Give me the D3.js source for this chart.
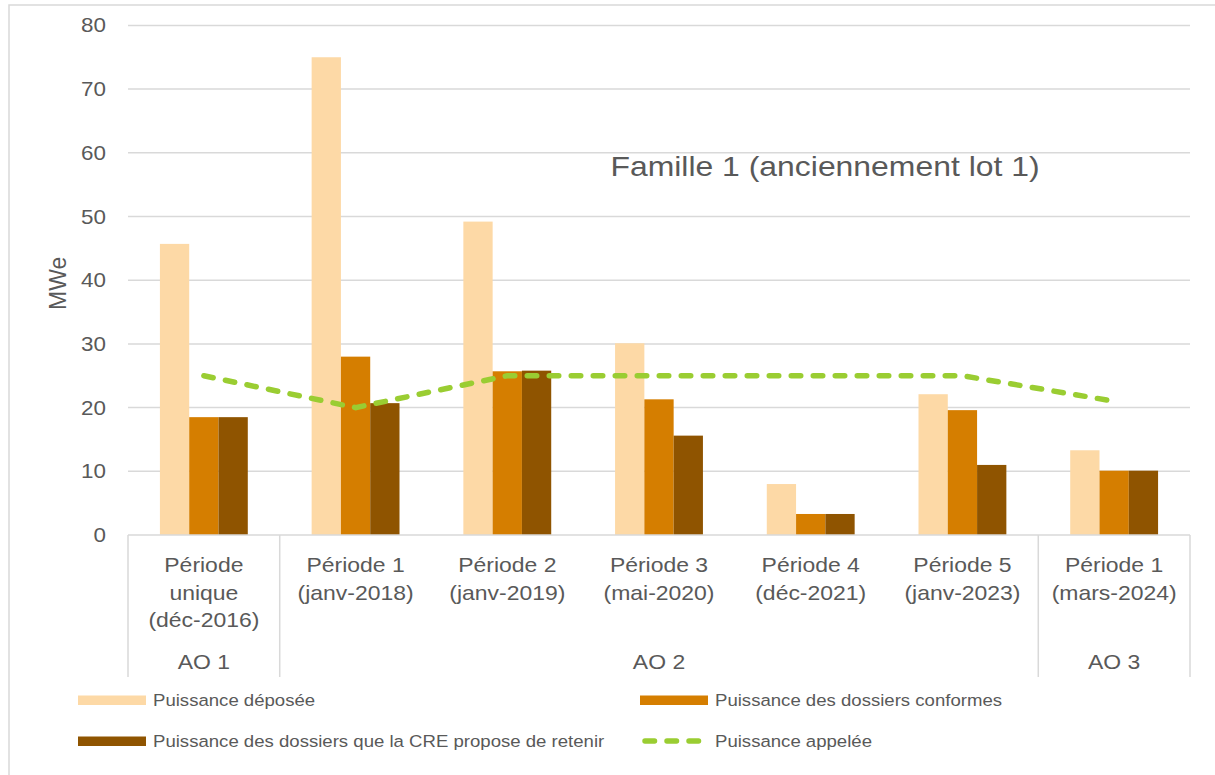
<!DOCTYPE html>
<html>
<head>
<meta charset="utf-8">
<script src="https://cdn.jsdelivr.net/npm/d3@7"></script>
<style>
  html, body { margin: 0; padding: 0; background: #fff; }
  svg { display: block; font-family: "Liberation Sans", Arial, sans-serif; }
</style>
</head>
<body>
<svg id="chart" width="1215" height="775"></svg>
<script>
// ---- Data ----
const periodLabels = [
  ["Période", "unique", "(déc-2016)"],
  ["Période 1", "(janv-2018)"],
  ["Période 2", "(janv-2019)"],
  ["Période 3", "(mai-2020)"],
  ["Période 4", "(déc-2021)"],
  ["Période 5", "(janv-2023)"],
  ["Période 1", "(mars-2024)"]
];
const categories = ["P0", "P1", "P2", "P3", "P4", "P5", "P6"];
const aoLabels = ["AO 1", "AO 2", "AO 3"];
const aoSpans = [1, 5, 1];

const puissanceDeposee   = [45.7, 75.0, 49.2, 30.1, 8.0, 22.1, 13.3];
const puissanceConformes = [18.5, 28.0, 25.7, 21.3, 3.3, 19.6, 10.1];
const puissanceRetenue   = [18.5, 20.7, 25.8, 15.6, 3.3, 11.0, 10.1];
const puissanceAppelee   = [25, 20, 25, 25, 25, 25, 21];

const seriesNames = [
  "Puissance déposée",
  "Puissance des dossiers conformes",
  "Puissance des dossiers que la CRE propose de retenir"
];
const lineName = "Puissance appelée";
const yTicks = [0, 10, 20, 30, 40, 50, 60, 70, 80];
const titleText = "Famille 1 (anciennement lot 1)";
const yLabel = "MWe";

// ---- Styles ----
const colors = ["#FDD9A6", "#D57E00", "#8F5400"];
const lineColor = "#9ACD32";
const textColor = "#595959";
const gridColor = "#D9D9D9";
const SX = 1.12; // horizontal glyph stretch seen in the reference

const svg = d3.select("#chart");

function addText(parent, x, y, str, size, anchor, dy) {
  const g = parent.append("g").attr("transform", `translate(${x},${y}) scale(${SX},1)`);
  return g.append("text")
    .attr("x", 0).attr("y", 0)
    .attr("dy", dy || 0)
    .attr("text-anchor", anchor || "start")
    .attr("font-size", size).attr("fill", textColor)
    .text(str);
}

// outer border
svg.append("rect")
  .attr("x", 9).attr("y", 5).attr("width", 1215).attr("height", 775)
  .attr("fill", "none").attr("stroke", gridColor).attr("stroke-width", 1.5);

const plot = { left: 128, right: 1190, top: 25.4, bottom: 535 };

const y = d3.scaleLinear().domain([0, 80]).range([plot.bottom, plot.top]);
const x0 = d3.scaleBand().domain(categories).range([plot.left, plot.right]).padding(0);
const x1 = d3.scaleBand().domain(seriesNames).range([0, x0.bandwidth()])
  .paddingInner(0).paddingOuter(1.09);

// gridlines
svg.append("g").selectAll("line").data(yTicks.filter(d => d > 0)).join("line")
  .attr("x1", plot.left).attr("x2", plot.right)
  .attr("y1", d => y(d)).attr("y2", d => y(d))
  .attr("stroke", gridColor).attr("stroke-width", 1.5);

// y tick labels
const tickG = svg.append("g");
yTicks.forEach(d => addText(tickG, 106, y(d), d, 20, "end", "0.35em"));

// y label
svg.append("text")
  .attr("transform", `translate(66,${y(39.5)}) rotate(-90)`)
  .attr("text-anchor", "middle")
  .attr("font-size", 23).attr("fill", textColor)
  .text(yLabel);

// title
addText(svg, 825, 176, titleText, 28.5, "middle");

// bars
const seriesData = [puissanceDeposee, puissanceConformes, puissanceRetenue];
seriesData.forEach((vals, si) => {
  svg.append("g").selectAll("rect").data(vals).join("rect")
    .attr("x", (d, i) => x0(categories[i]) + x1(seriesNames[si]))
    .attr("width", x1.bandwidth())
    .attr("y", d => y(d))
    .attr("height", d => y(0) - y(d))
    .attr("fill", colors[si]);
});

// line
const line = d3.line()
  .x((d, i) => x0(categories[i]) + x0.bandwidth() / 2)
  .y(d => y(d));
svg.append("path")
  .datum(puissanceAppelee)
  .attr("d", line)
  .attr("fill", "none")
  .attr("stroke", lineColor)
  .attr("stroke-width", 5.5)
  .attr("stroke-linecap", "round")
  .attr("stroke-dasharray", "9.5 12.5");

// baseline
svg.append("line")
  .attr("x1", plot.left).attr("x2", plot.right)
  .attr("y1", plot.bottom).attr("y2", plot.bottom)
  .attr("stroke", gridColor).attr("stroke-width", 1.5);

// category separators (AO group boundaries)
const boundaries = [0];
aoSpans.reduce((acc, s) => { boundaries.push(acc + s); return acc + s; }, 0);
const bx = k => k < categories.length ? x0(categories[k]) : plot.right;
svg.append("g").selectAll("line").data(boundaries).join("line")
  .attr("x1", d => bx(d)).attr("x2", d => bx(d))
  .attr("y1", plot.bottom).attr("y2", 677)
  .attr("stroke", gridColor).attr("stroke-width", 1.5);

// category labels
const catG = svg.append("g");
periodLabels.forEach((lines, i) => {
  lines.forEach((ln, j) => {
    addText(catG, x0(categories[i]) + x0.bandwidth() / 2, 572 + j * 27.5, ln, 20.5, "middle");
  });
});

// AO labels
aoLabels.forEach((lab, k) => {
  const cx = (bx(boundaries[k]) + bx(boundaries[k + 1])) / 2;
  addText(svg, cx, 669, lab, 20.5, "middle");
});

// legend
const legendItems = [
  { name: seriesNames[0], type: "bar", color: colors[0], x: 78, y: 700 },
  { name: seriesNames[1], type: "bar", color: colors[1], x: 640, y: 700 },
  { name: seriesNames[2], type: "bar", color: colors[2], x: 78, y: 741 },
  { name: lineName, type: "line", color: lineColor, x: 640, y: 741 }
];
const lg = svg.append("g");
legendItems.forEach(it => {
  if (it.type === "bar") {
    lg.append("rect").attr("x", it.x).attr("y", it.y - 4.5)
      .attr("width", 68).attr("height", 9.5).attr("fill", it.color);
  } else {
    lg.append("line").attr("x1", it.x + 5).attr("x2", it.x + 63)
      .attr("y1", it.y).attr("y2", it.y)
      .attr("stroke", it.color).attr("stroke-width", 5.5)
      .attr("stroke-linecap", "round").attr("stroke-dasharray", "9.5 12.5");
  }
  addText(lg, it.x + 75, it.y, it.name, 16.6, "start", "0.35em");
});
</script>
</body>
</html>
